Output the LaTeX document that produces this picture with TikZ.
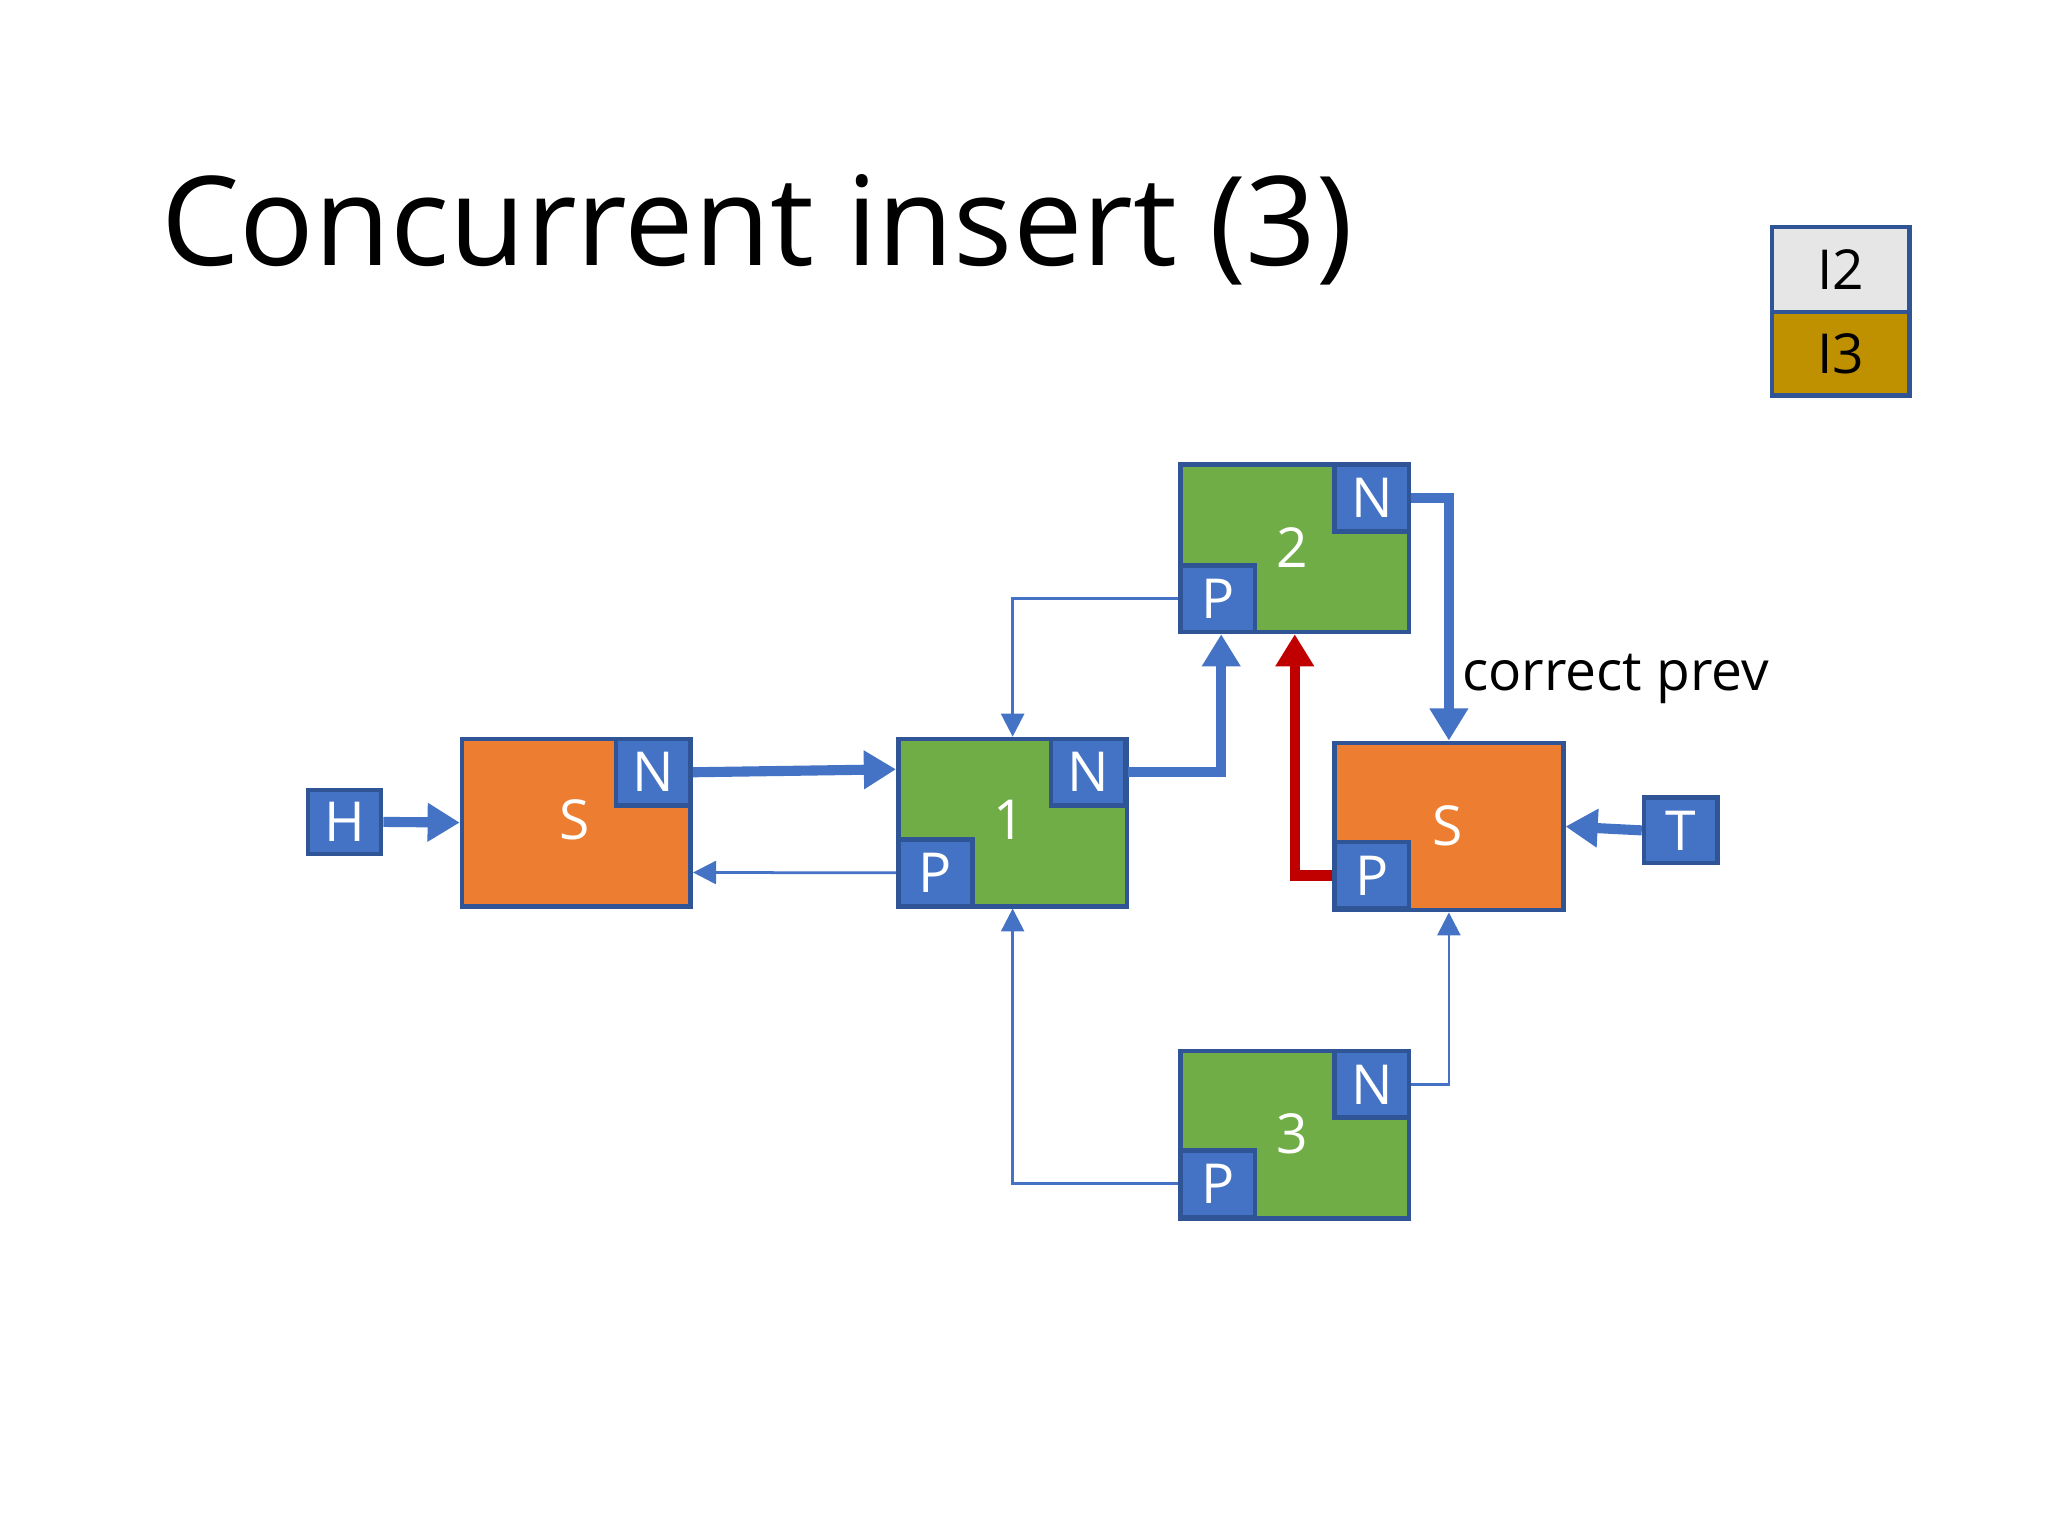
\documentclass[tikz,border=0pt]{standalone}
\usepackage{fontspec}
\setmainfont{Open Sans}
\usetikzlibrary{arrows.meta}
\definecolor{ptrblue}{HTML}{4472C4}
\definecolor{edgeblue}{HTML}{2F5597}
\definecolor{sorange}{HTML}{ED7D31}
\definecolor{lgreen}{HTML}{70AD47}
\definecolor{redarr}{HTML}{C00000}
\definecolor{greyleg}{HTML}{E7E6E6}
\definecolor{goldleg}{HTML}{BF9000}
\tikzset{
	box/.style={draw=edgeblue, line width=1pt, anchor=north west, inner sep=0pt,
		minimum width=1.75cm, minimum height=1.28cm},
	ptr/.style={box, fill=ptrblue, text=white, minimum width=0.57cm, minimum height=0.51cm,
		font=\fontsize{12}{14}\selectfont},
	lbl/.style={text=white, font=\fontsize{12}{14}\selectfont},
	thickarr/.style={ptrblue, line width=2.2pt, -{Triangle[length=7pt,width=8pt]}},
	thinarr/.style={ptrblue, line width=0.6pt, -{Triangle[length=5pt,width=5pt]}},
}
\begin{document}
\begin{tikzpicture}[x=0.01cm, y=-0.01cm]
	\useasboundingbox[fill=white] (0,0) rectangle (1568,1176);

	% title
	\node[anchor=base west, font=\fontsize{27}{30}\selectfont, inner sep=0pt] (title) at (123,203) {Concurrent insert (3)};

	% legend
	\node[box, fill=greyleg, minimum width=1.05cm, minimum height=0.65cm, font=\fontsize{12}{14}\selectfont] (lgA) at (1355,172) {I2};
	\node[box, fill=goldleg, minimum width=1.05cm, minimum height=0.64cm, font=\fontsize{12}{14}\selectfont] (lgB) at (1355,237) {I3};

	% sentinel nodes
	\node[box, fill=sorange] (s1) at (352,564) {};
	\node[lbl] at (440,628) {S};
	\node[ptr] (s1n) at (470,564) {N};
	\node[box, fill=sorange] (s2) at (1020,567) {};
	\node[lbl] at (1108,632) {S};
	\node[ptr] (s2p) at (1020,643) {P};

	% list nodes
	\node[box, fill=lgreen] (n1) at (686,564) {};
	\node[lbl] at (773,628) {1};
	\node[ptr] (n1n) at (803,564) {N};
	\node[ptr] (n1p) at (686,641) {P};

	\node[box, fill=lgreen] (n2) at (902,354) {};
	\node[lbl] at (989,419) {2};
	\node[ptr] (n2n) at (1020,354) {N};
	\node[ptr] (n2p) at (902,431) {P};

	\node[box, fill=lgreen] (n3) at (902,803) {};
	\node[lbl] at (989,868) {3};
	\node[ptr] (n3n) at (1020,803) {N};
	\node[ptr] (n3p) at (902,879) {P};

	% head and tail
	\node[ptr, minimum width=0.56cm, minimum height=0.49cm] (head) at (234,603) {H};
	\node[ptr, minimum width=0.56cm, minimum height=0.5cm] (tail) at (1257,609) {T};

	\node[font=\fontsize{12}{14}\selectfont] (note) at (1237,520) {correct prev};

	% pointers
	\draw[thickarr] (head.east) -- (s1.west);
	\draw[thickarr] (s1n.east) -- (n1.west |- 0,589);
	\draw[thinarr] (n1p.west) -- (s1.east |- 0,668);
	\draw[thickarr] (n1n.east) -| (n2.south -| 935,0);
	\draw[thinarr] (n2p.west) -| (n1.north);
	\draw[thickarr] (n2n.east) -| (s2.north);
	\draw[redarr, line width=2.2pt, -{Triangle[length=7pt,width=8pt]}] (s2p.west) -| (n2.south);
	\draw[thickarr] (tail.west) -- (s2.east);
	\draw[thinarr] (n3n.east) -| (s2.south);
	\draw[thinarr] (n3p.west) -| (n1.south);
\end{tikzpicture}
\end{document}
